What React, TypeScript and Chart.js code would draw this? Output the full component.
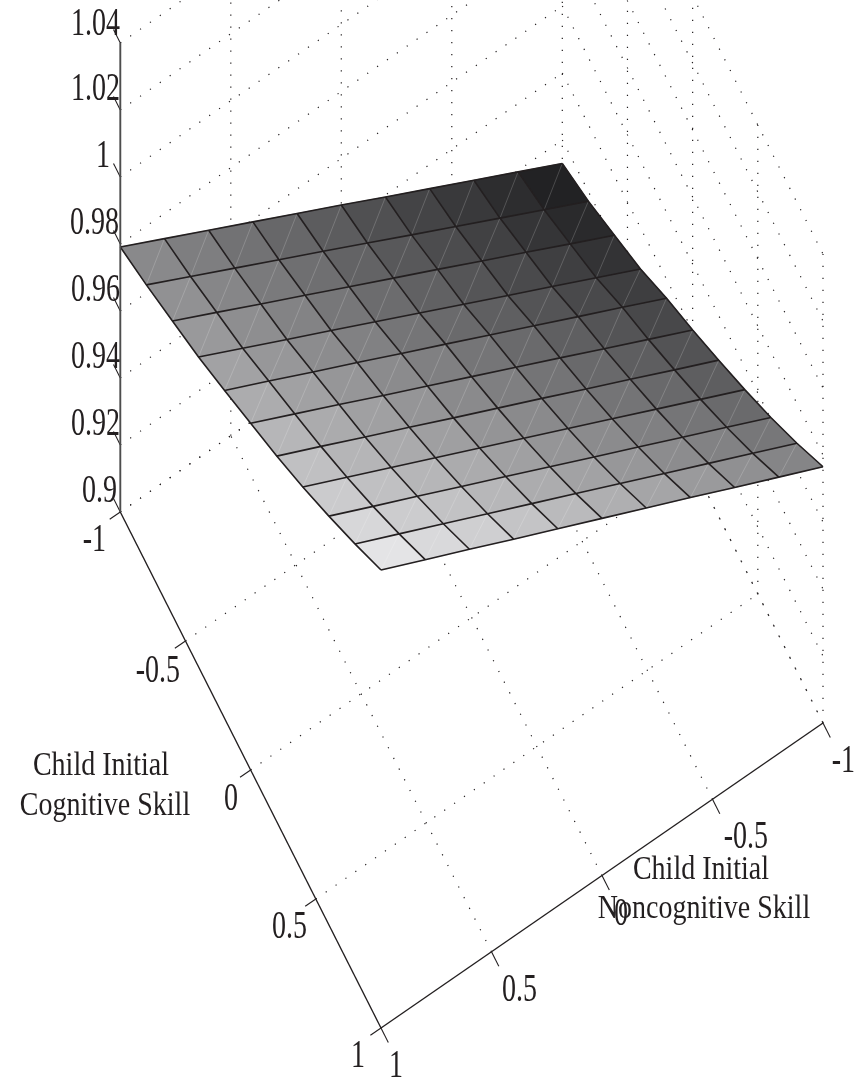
import React, { useEffect, useRef } from "react";
import { Chart, registerables } from "chart.js";

Chart.register(...registerables);

// ---- data ----
const cogGrid = [-1, -0.8, -0.6, -0.4, -0.2, 0, 0.2, 0.4, 0.6, 0.8, 1];
const nonGrid = [-1, -0.8, -0.6, -0.4, -0.2, 0, 0.2, 0.4, 0.6, 0.8, 1];
const cogTicks = [-1, -0.5, 0, 0.5, 1];
const nonTicks = [1, 0.5, 0, -0.5, -1];
const zTicks = [0.9, 0.92, 0.94, 0.96, 0.98, 1, 1.02, 1.04];
const cogTickLabels = ["-1", "-0.5", "0", "0.5", "1"];
const nonTickLabels = ["1", "0.5", "0", "-0.5", "-1"];
const zTickLabels = ["0.9", "0.92", "0.94", "0.96", "0.98", "1", "1.02", "1.04"];
const cogTitle = ["Child Initial", "Cognitive Skill"];
const nonTitle = ["Child Initial", "Noncognitive Skill"];
// rows: cognitive skill -1..1; columns: noncognitive skill -1..1
const surfaceRow0 = [0.913, 0.9196, 0.9262, 0.9328, 0.9394, 0.9461, 0.9527, 0.9593, 0.9659, 0.9725, 0.9791];
const surfaceRow1 = [0.9171, 0.9237, 0.9303, 0.9369, 0.9435, 0.9502, 0.9568, 0.9634, 0.97, 0.9766, 0.9832];
const surfaceRow2 = [0.9224, 0.9289, 0.9355, 0.942, 0.9486, 0.9551, 0.9616, 0.9682, 0.9747, 0.9813, 0.9878];
const surfaceRow3 = [0.9277, 0.9342, 0.9407, 0.9471, 0.9536, 0.9601, 0.9666, 0.9731, 0.9795, 0.986, 0.9925];
const surfaceRow4 = [0.9344, 0.9408, 0.9471, 0.9535, 0.9598, 0.9662, 0.9725, 0.9789, 0.9852, 0.9916, 0.9979];
const surfaceRow5 = [0.9403, 0.9466, 0.9529, 0.9593, 0.9656, 0.9719, 0.9782, 0.9845, 0.9909, 0.9972, 1.0035];
const surfaceRow6 = [0.9467, 0.9529, 0.9592, 0.9654, 0.9717, 0.9779, 0.9841, 0.9904, 0.9966, 1.0029, 1.0091];
const surfaceRow7 = [0.9533, 0.9595, 0.9657, 0.9719, 0.9781, 0.9843, 0.9905, 0.9967, 1.0029, 1.0091, 1.0153];
const surfaceRow8 = [0.9604, 0.9666, 0.9727, 0.9789, 0.985, 0.9912, 0.9974, 1.0035, 1.0097, 1.0158, 1.022];
const surfaceRow9 = [0.9681, 0.9742, 0.9803, 0.9864, 0.9925, 0.9986, 1.0047, 1.0108, 1.0169, 1.023, 1.0291];
const surfaceRow10 = [0.9765, 0.9825, 0.9885, 0.9946, 1.0006, 1.0066, 1.0126, 1.0186, 1.0247, 1.0307, 1.0367];
const surface = [
  surfaceRow0, surfaceRow1, surfaceRow2, surfaceRow3, surfaceRow4, surfaceRow5,
  surfaceRow6, surfaceRow7, surfaceRow8, surfaceRow9, surfaceRow10,
];

// ---- view: the oblique projection of the 3-D box on the page ----
const W = 865;
const H = 1081;
const ZMIN = 0.9;
const ZMAX = 1.04;
const project = (cog: number, non: number, z: number) => {
  const t = (cog + 1) / 2;
  const u = (1 - non) / 2;
  return {
    x: 120.3 + t * 260.7 + u * 442,
    y: 512 + t * 516 - u * 305 - (z - ZMIN) * 3350,
  };
};

// ---- styles ----
const INK = "#231f20";
const DOT = { borderColor: "#231f20", borderWidth: 1.2, borderDash: [1.2, 10.8], fill: false };
const MESH = { borderColor: "#231f20", borderWidth: 1.6, fill: false };
const AXIS = { borderColor: "#231f20", borderWidth: 1.4, fill: false };
const ZAXIS = { borderColor: "#4d4d4d", borderWidth: 1.9, fill: false };
const TICK = { borderColor: "#231f20", borderWidth: 1.1, fill: false };
const DIAG = { borderColor: "rgba(255,255,255,0.26)", borderWidth: 0.7, fill: false };

const shade = (z: number) => {
  const t = Math.min(1, Math.max(0, (z - 0.9184) / 0.1115));
  const g = Math.round(34 + t * 194);
  return `rgb(${g},${g},${Math.min(255, g + 2)})`;
};

const line = (pts: { x: number; y: number }[], style: any) => ({
  data: pts,
  pointRadius: 0,
  pointHitRadius: 0,
  tension: 0,
  ...style,
});

function buildDatasets() {
  const top: any[] = [];
  const mesh: any[] = [];
  const diag: any[] = [];
  const cells: any[] = [];
  const dots: any[] = [];
  const node = (i: number, k: number) => project(cogGrid[i], nonGrid[k], surface[i][k]);

  // axes
  top.push(line([project(-1, 1, ZMIN), project(-1, 1, ZMAX)], ZAXIS));
  top.push(line([project(-1, 1, ZMIN), project(1, 1, ZMIN)], AXIS));
  top.push(line([project(1, 1, ZMIN), project(1, -1, ZMIN)], AXIS));
  zTicks.forEach((z) => top.push(line([project(-1, 1, z), project(-1.052, 1, z)], TICK)));
  cogTicks.forEach((c) => top.push(line([project(c, 1, ZMIN), project(c, 1.048, ZMIN)], TICK)));
  nonTicks.forEach((n) => top.push(line([project(1, n, ZMIN), project(1.056, n, ZMIN)], TICK)));

  // surface
  for (let i = 0; i < cogGrid.length; i++) {
    mesh.push(line(nonGrid.map((_, k) => node(i, k)), MESH));
    mesh.push(line(cogGrid.map((_, r) => node(r, i)), MESH));
  }
  for (let i = 0; i < cogGrid.length - 1; i++) {
    for (let k = 0; k < nonGrid.length - 1; k++) {
      const mean = (surface[i][k] + surface[i + 1][k] + surface[i][k + 1] + surface[i + 1][k + 1]) / 4;
      const c = shade(mean);
      cells.push(
        line([node(i, k), node(i + 1, k), node(i + 1, k + 1), node(i, k + 1), node(i, k)], {
          fill: "shape",
          backgroundColor: c,
          borderColor: c,
          borderWidth: 0.6,
        })
      );
      diag.push(line([node(i, k), node(i + 1, k + 1)], DIAG));
    }
  }

  // dotted box grid: floor
  cogTicks.slice(0, 4).forEach((c) => dots.push(line([project(c, 1, ZMIN), project(c, -1, ZMIN)], DOT)));
  nonTicks.slice(1).forEach((n) => dots.push(line([project(1, n, ZMIN), project(-1, n, ZMIN)], DOT)));
  // dotted box grid: the two back walls
  zTicks.forEach((z) => {
    dots.push(line([project(-1, 1, z), project(-1, -1, z)], DOT));
    dots.push(line([project(-1, -1, z), project(1, -1, z)], DOT));
  });
  nonTicks.slice(1).forEach((n) => dots.push(line([project(-1, n, ZMIN), project(-1, n, ZMAX)], DOT)));
  cogTicks.slice(1).forEach((c) => dots.push(line([project(c, -1, ZMIN), project(c, -1, ZMAX)], DOT)));

  // index 0 is painted last
  return [...top, ...mesh, ...diag, ...cells, ...dots];
}

// where each text sits on the page: [x, baseline y]
const zLabelPos = [[117, 502], [120, 435], [120, 368], [120, 301], [119, 234], [110, 167], [120, 100], [120, 35]];
const cogLabelPos = [[106, 551], [180, 682], [238, 810], [307, 938], [365, 1067]];
const nonLabelPos = [[403, 1077], [537, 1001], [628, 925], [768, 848], [855, 772]];
const cogTitlePos = [[101, 775], [105, 815]];
const nonTitlePos = [[701, 879], [704, 918]];

const textPlugin = {
  id: "boxText",
  afterDraw(chart: any) {
    const { ctx, scales } = chart;
    const put = (s: string, px: number, py: number, align: CanvasTextAlign, font: number, sy: number) => {
      ctx.save();
      ctx.translate(scales.x.getPixelForValue(px), scales.y.getPixelForValue(py));
      ctx.scale(1, sy);
      ctx.font = `${font}px "Liberation Serif"`;
      ctx.fillStyle = INK;
      ctx.textAlign = align;
      ctx.textBaseline = "alphabetic";
      ctx.fillText(s, 0, 0);
      ctx.restore();
    };
    zTickLabels.forEach((s, i) => put(s, zLabelPos[i][0], zLabelPos[i][1], "right", 28, 1.42));
    cogTickLabels.forEach((s, i) => put(s, cogLabelPos[i][0], cogLabelPos[i][1], "right", 28, 1.42));
    nonTickLabels.forEach((s, i) => put(s, nonLabelPos[i][0], nonLabelPos[i][1], "right", 28, 1.42));
    cogTitle.forEach((s, i) => put(s, cogTitlePos[i][0], cogTitlePos[i][1], "center", 28, 1.2));
    nonTitle.forEach((s, i) => put(s, nonTitlePos[i][0], nonTitlePos[i][1], "center", 28, 1.2));
  },
};

export default function App() {
  const ref = useRef<HTMLCanvasElement | null>(null);
  useEffect(() => {
    document.body.style.margin = "0";
    const chart = new Chart(ref.current as HTMLCanvasElement, {
      type: "line",
      data: { datasets: buildDatasets() },
      options: {
        responsive: false,
        animation: false,
        layout: { padding: 0 },
        scales: {
          x: { type: "linear", min: 0, max: W, display: false },
          y: { type: "linear", min: 0, max: H, reverse: true, display: false },
        },
        plugins: { legend: { display: false }, tooltip: { enabled: false } },
        events: [],
      },
      plugins: [textPlugin],
    } as any);
    return () => chart.destroy();
  }, []);
  return <canvas ref={ref} width={W} height={H} style={{ display: "block" }} />;
}
